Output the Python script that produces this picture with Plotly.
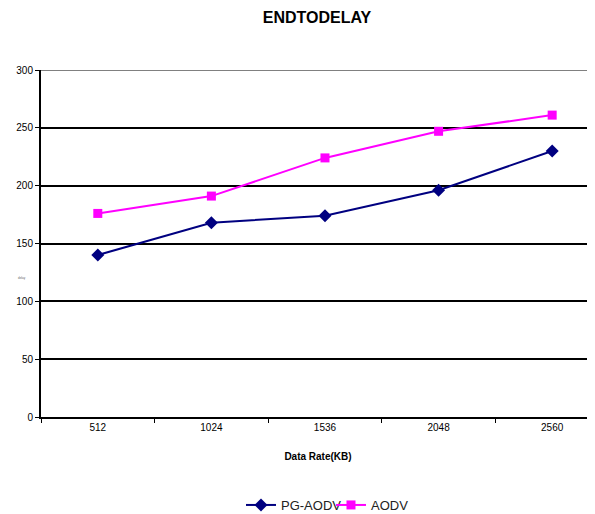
import plotly.graph_objects as go

categories = ["512", "1024", "1536", "2048", "2560"]
pg_aodv = [140, 168, 174, 196, 230]
aodv = [176, 191, 224, 247, 261]
y_ticks = [0, 50, 100, 150, 200, 250, 300]

# page body has an 8px margin: figure is drawn from (8, 8)
W, H = 587, 506

fig = go.Figure()
fig.add_trace(go.Scatter(
    x=categories, y=pg_aodv, name="PG-AODV", mode="lines+markers",
    line=dict(color="#000080", width=2),
    marker=dict(symbol="diamond", size=10, color="#000080"),
))
fig.add_trace(go.Scatter(
    x=categories, y=aodv, name="AODV", mode="lines+markers",
    line=dict(color="#FF00FF", width=2),
    marker=dict(symbol="square", size=9, color="#FF00FF"),
))

fig.update_layout(
    width=W, height=H,
    margin=dict(l=33, r=0, t=62, b=97, autoexpand=False),
    paper_bgcolor="white", plot_bgcolor="white",
    font=dict(family="Liberation Sans, Arial, sans-serif", color="black", size=10),
    title=dict(text="<b>ENDTODELAY</b>", x=309 / W, xanchor="center",
               y=1 - 9 / H, yanchor="middle", yref="container",
               font=dict(size=16, color="black")),
    showlegend=True,
    legend=dict(orientation="h", x=0.361, xanchor="left", y=-0.2536, yanchor="middle",
                font=dict(size=13, color="#222222"), entrywidth=45, entrywidthmode="pixels",
                tracegroupgap=0, bgcolor="rgba(0,0,0,0)"),
    xaxis=dict(type="category", range=[-0.5, 4.377], tickson="boundaries",
               ticks="outside", ticklen=4, tickcolor="black", tickwidth=1,
               showgrid=False, showline=True, linecolor="black", linewidth=2,
               automargin=False,
               tickfont=dict(size=10, color="black"),
               title=dict(text="<b>Data Rate(KB)</b>", font=dict(size=10, color="black"),
                          standoff=21)),
    yaxis=dict(range=[0, 300], tickvals=y_ticks, ticks="outside", ticklen=4,
               tickcolor="black", tickwidth=1, showgrid=True, gridcolor="black",
               gridwidth=2, showline=True, linecolor="black", linewidth=2,
               zeroline=False, automargin=False,
               tickfont=dict(size=10, color="black")),
)

fig.add_shape(type="line", xref="paper", yref="y", x0=0, x1=1, y0=300, y1=300,
              line=dict(color="#808080", width=2), layer="above")
fig.add_annotation(text="delay", xref="paper", yref="paper", x=-0.045, y=0.4,
                   showarrow=False, font=dict(size=3, color="#666666"))

fig.write_html("out.html")
